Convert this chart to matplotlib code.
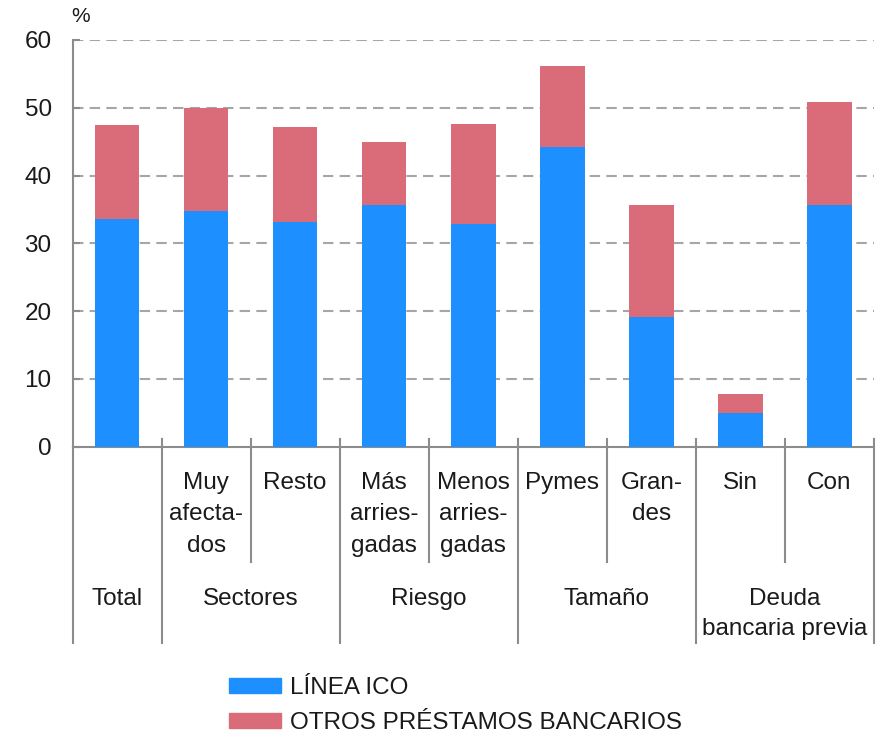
import matplotlib
matplotlib.use("Agg")
import matplotlib.pyplot as plt
import matplotlib.transforms as mtransforms
from matplotlib.patches import Patch

plt.rcParams['font.family'] = ['Liberation Sans', 'DejaVu Sans']

sub_labels = ["", "Muy\nafecta-\ndos", "Resto", "Más\narries-\ngadas", "Menos\narries-\ngadas",
              "Pymes", "Gran-\ndes", "Sin", "Con"]
group_labels = ["Total", "Sectores", "Riesgo", "Tamaño", "Deuda\nbancaria previa"]
group_spans = [(0, 0), (1, 2), (3, 4), (5, 6), (7, 8)]
linea_ico = [33.6, 34.8, 33.2, 35.7, 32.9, 44.2, 19.1, 5.0, 35.7]
otros = [13.8, 15.1, 13.9, 9.2, 14.7, 11.9, 16.6, 2.8, 15.1]
series_names = ["LÍNEA ICO", "OTROS PRÉSTAMOS BANCARIOS"]
yticks = [0, 10, 20, 30, 40, 50, 60]

BLUE = "#1E8FFF"
RED = "#D96C78"
GRID = "#A6A6A6"
AXC = "#8C8C8C"
TXT = "#1a1a1a"
FS = 17.5

W, H = 888, 735
fig = plt.figure(figsize=(W / 100, H / 100), dpi=100)
ax_l, ax_r, ax_b, ax_t = 72.5, 874, 446.7, 40
ax = fig.add_axes([ax_l / W, 1 - ax_b / H, (ax_r - ax_l) / W, (ax_b - ax_t) / H])

x = list(range(len(sub_labels)))
ax.bar(x, linea_ico, width=0.5, color=BLUE, zorder=3)
ax.bar(x, otros, width=0.5, bottom=linea_ico, color=RED, zorder=3)

ax.set_xlim(-0.5, len(x) - 0.5)
ax.set_ylim(0, 60)
ax.set_yticks(yticks)
ax.set_yticklabels([str(v) for v in yticks], fontsize=FS, color=TXT)
ax.tick_params(axis='y', direction='in', length=5, width=1.5, color=AXC, pad=15)
ax.set_xticks([])
for v in yticks[1:]:
    ax.axhline(v, color=GRID, lw=1.5, ls=(0, (5, 3)), zorder=1)

for s in ['top', 'right']:
    ax.spines[s].set_visible(False)
for s in ['left', 'bottom']:
    ax.spines[s].set_color(AXC)
    ax.spines[s].set_linewidth(1.5)

axh = ax_b - ax_t
def ya(px):
    return (ax_b - px) / axh

trans = mtransforms.blended_transform_factory(ax.transData, ax.transAxes)
# separators
long_b = [-0.5, 0.5, 2.5, 4.5, 6.5, 8.5]
short_b = [1.5, 3.5, 5.5, 7.5]
for b in long_b:
    top = 0 if b == -0.5 else ya(439)
    ax.plot([b, b], [top, ya(643)], transform=trans, color=AXC, lw=1.5, clip_on=False, zorder=4)
for b in short_b:
    ax.plot([b, b], [ya(439), ya(562)], transform=trans, color=AXC, lw=1.5, clip_on=False, zorder=4)

for xi, lab in zip(x, sub_labels):
    if lab:
        ax.text(xi, ya(472), lab, transform=trans, ha='center', va='top', fontsize=FS,
                linespacing=1.55, color=TXT)
for (a, b), lab in zip(group_spans, group_labels):
    ax.text((a + b) / 2, ya(588), lab, transform=trans, ha='center', va='top', fontsize=FS,
            linespacing=1.45, color=TXT)

ax.text(71 / W, 1 - 16 / H, "%", transform=fig.transFigure, ha='left', va='center',
        fontsize=15, color=TXT)

handles = [Patch(color=BLUE, label=series_names[0]), Patch(color=RED, label=series_names[1])]
leg = fig.legend(handles=handles, loc='upper left', bbox_to_anchor=(229 / W, 1 - 677 / H),
                 frameon=False, fontsize=FS, handlelength=2.15, handleheight=0.55,
                 handletextpad=0.35, labelspacing=0.55, borderpad=0, borderaxespad=0)
for t in leg.get_texts():
    t.set_color(TXT)

fig.savefig("out.png", dpi=100)
